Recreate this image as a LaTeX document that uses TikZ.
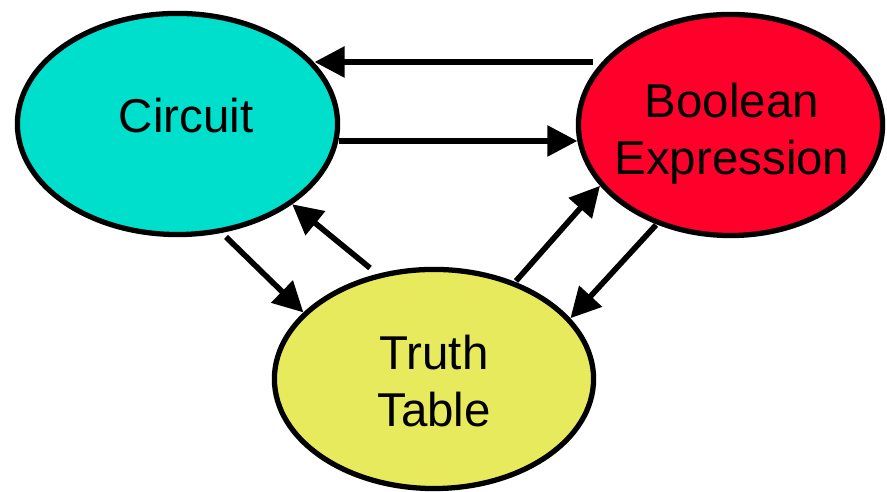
\documentclass[tikz,border=0pt]{standalone}
\usepackage{fontspec}
\setmainfont{Liberation Sans}
\usetikzlibrary{shapes.geometric,arrows.meta}
\definecolor{circcyan}{RGB}{0,222,204}
\definecolor{boolred}{RGB}{255,0,43}
\definecolor{truthyellow}{RGB}{232,234,94}
\tikzset{
  bubble/.style={ellipse,draw,line width=1.5pt,inner sep=0pt},
  arr/.style={-{Triangle[length=0.3cm,width=0.3cm]},line width=1.6pt},
  txt/.style={font=\fontsize{13.5}{16.3}\selectfont,align=center}
}
\begin{document}
\begin{tikzpicture}[x=0.01cm,y=0.01cm]

\useasboundingbox (0,0) rectangle (887,492);

%% 三个椭圆
\node [bubble,fill=circcyan,minimum width=3.20cm,minimum height=2.21cm] (circ) at (177.5,368) {};
\node [bubble,fill=boolred,minimum width=3.04cm,minimum height=2.21cm] (bool) at (730.5,367) {};
\node [bubble,fill=truthyellow,minimum width=3.19cm,minimum height=2.19cm] (truth) at (434,113) {};

\node [txt] (circtxt) at (186,376) {Circuit};
\node [txt] (booltxt) at (732,358) {Boolean\\Expression};
\node [txt] (truthtxt) at (434,111) {Truth\\Table};

%% 箭头起点
\coordinate (btoc) at (593,430);
\coordinate (ctob) at (339,351);
\coordinate (ctot) at (226,255);
\coordinate (ttoc) at (370,224);
\coordinate (ttob) at (516,211);
\coordinate (btot) at (656,267);

\draw [arr] (btoc) -- (circ.24 |- btoc);  %上横线
\draw [arr] (ctob) -- (bool.186 |- ctob);  %下横线
\draw [arr] (ctot) -- (truth.153);
\draw [arr] (ttoc) -- (circ.325);
\draw [arr] (ttob) -- (bool.205);
\draw [arr] (btot) -- (truth.24);

\end{tikzpicture}
\end{document}
